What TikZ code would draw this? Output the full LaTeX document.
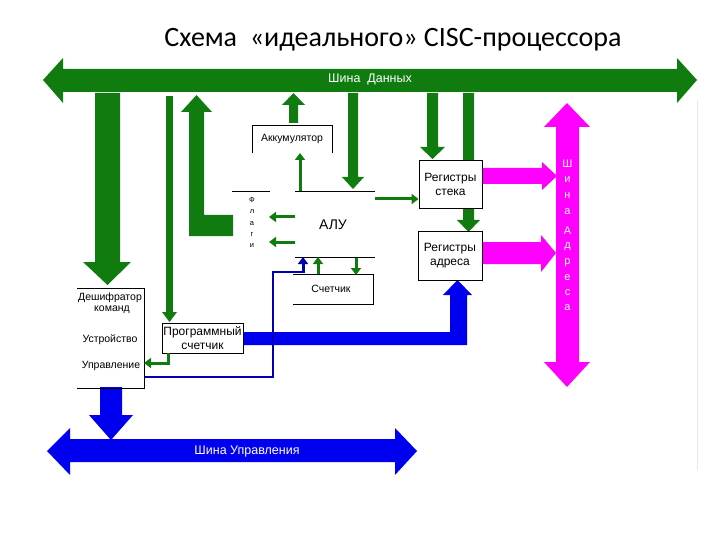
\documentclass[tikz,border=0pt]{standalone}
\usepackage{fontspec}
\setmainfont{Liberation Sans}
\newfontfamily\titlefont{Carlito}
\usetikzlibrary{arrows.meta}
\definecolor{busgreen}{RGB}{16,124,16}
\definecolor{busmag}{RGB}{255,0,255}
\definecolor{busblue}{RGB}{0,0,240}
\definecolor{navyline}{RGB}{0,0,175}
\begin{document}
\begin{tikzpicture}[x=1pt,y=-1pt,
  frame/.style={draw=black, line width=0.8pt},
  box/.style={draw=black, line width=0.8pt, fill=white, inner sep=0pt, align=center},
  lbl/.style={font=\fontsize{10.5}{13}\selectfont, align=center, inner sep=0pt},
  biglbl/.style={font=\fontsize{12}{14}\selectfont, align=center, inner sep=0pt},
  buslbl/.style={text=white, inner sep=0pt, font=\fontsize{12.5}{14}\selectfont},
  vlet/.style={text=white, inner sep=0pt, font=\fontsize{11}{12}\selectfont},
  flet/.style={inner sep=0pt, font=\fontsize{7.5}{8}\selectfont},
  gfill/.style={fill=busgreen, draw=none},
  mfill/.style={fill=busmag, draw=none},
  bfill/.style={fill=busblue, draw=none},
  garrowsm/.style={draw=busgreen, line width=3pt, -{Triangle[length=7pt,width=10pt]}},
  barrowsm/.style={draw=navyline, line width=3pt, -{Triangle[length=7pt,width=10pt]}},
  navy/.style={draw=navyline, line width=1.1pt}
]
\useasboundingbox (0,0) rectangle (720,540);
\fill[white] (0,0) rectangle (720,540);

% title
\node[font=\titlefont\fontsize{28}{32}\selectfont, inner sep=0pt] (title) at (393,40) {Схема\ \ «идеального» CISC-процессора};

% faint slide edge
\draw[gray!18, line width=0.8pt] (697,100) -- (697,470);

% ---- Data bus (green)
\fill[gfill] (43,80) -- (63,58) -- (63,69) -- (677,69) -- (677,58) -- (697,80)
  -- (677,103) -- (677,92) -- (63,92) -- (63,103) -- cycle;
\node[buslbl] (dbus) at (370,79) {Шина\ \ Данных};

% ---- Address bus (magenta)
\fill[mfill] (567,103) -- (590,127) -- (579,127) -- (579,362) -- (590,362) -- (567,387)
  -- (544,362) -- (556,362) -- (556,127) -- (544,127) -- cycle;
\foreach \l/\y in {Ш/164, и/180, н/196, а/212, А/231, д/247, р/263, е/278, с/293, а/308}
  \node[vlet] at (567.5,\y) {\l};

% ---- Control bus (blue)
\fill[bfill] (47,451) -- (70,428) -- (70,439) -- (395,439) -- (395,428) -- (417,451)
  -- (395,475) -- (395,462) -- (70,462) -- (70,475) -- cycle;
\node[buslbl] (cbus) at (247,451) {Шина Управления};

% ---- green block arrows from data bus
\fill[gfill] (95,93) -- (120,93) -- (120,262) -- (131,262) -- (107.5,285) -- (83,262) -- (95,262) -- cycle;
\fill[gfill] (166,96) rectangle (173,313);
\fill[gfill] (162,312) -- (177,312) -- (169.5,322) -- cycle;
\fill[gfill] (189,236) -- (233,236) -- (233,215) -- (204,215) -- (204,112) -- (212,112)
  -- (196.5,95) -- (181,112) -- (189,112) -- cycle;
\fill[gfill] (289,123) -- (298,123) -- (298,105) -- (305,105) -- (293.5,93) -- (282,105) -- (289,105) -- cycle;
\fill[gfill] (348,93) -- (358,93) -- (358,177) -- (364,177) -- (353,189) -- (342,177) -- (348,177) -- cycle;
\fill[gfill] (427,93) -- (438,93) -- (438,147) -- (445,147) -- (432.5,159) -- (420,147) -- (427,147) -- cycle;
\fill[gfill] (463,93) -- (474,93) -- (474,220) -- (480,220) -- (468.5,232) -- (457,220) -- (463,220) -- cycle;

% ---- blue block arrows
\fill[bfill] (243,332) -- (450,332) -- (450,295) -- (443,295) -- (457.5,280) -- (472,295)
  -- (467,295) -- (467,345) -- (243,345) -- cycle;
\fill[bfill] (100,387) -- (122,387) -- (122,415) -- (133,415) -- (111,440) -- (89,415) -- (100,415) -- cycle;

% ---- magenta block arrows
\fill[mfill] (482,168) -- (542,168) -- (542,162) -- (557,176) -- (542,190) -- (542,184) -- (482,184) -- cycle;
\fill[mfill] (482,242) -- (541,242) -- (541,235) -- (556,253) -- (541,272) -- (541,264) -- (482,264) -- cycle;

% ---- boxes
\node[box, biglbl, minimum width=63pt, minimum height=48pt] (stack) at (450.5,184) {Регистры\\стека};
\node[box, biglbl, minimum width=64pt, minimum height=49pt] (addr) at (450,255.5) {Регистры\\адреса};
\node[box, biglbl, minimum width=81pt, minimum height=30pt] (pc) at (202.5,338) {Программный\\счетчик};

% accumulator
\draw[frame] (252,153) -- (252,125) -- (332,125) -- (332,153);
\node[lbl] (acc) at (292,139) {Аккумулятор};

% ALU
\node[inner sep=0pt, minimum width=143pt, minimum height=66pt] (alu) at (303.5,224) {};
\draw[frame] (232,191) -- (270,191);
\draw[frame] (295,191) -- (375,191);
\draw[frame] (295,257) -- (375,257);
\node[font=\fontsize{14}{16}\selectfont, inner sep=0pt] (alutext) at (333,225) {АЛУ};
\foreach \l/\y in {Ф/200, л/212, а/224, г/235, и/246}
  \node[flet] at (252,\y) {\l};

% counter
\draw[frame] (293,274) -- (373,274) -- (373,304) -- (293,304);
\node[lbl] (cnt) at (331,289) {Счетчик};

% control unit / decoder
\draw[frame] (77,288) -- (144,288) -- (144,388) -- (77,388);
\coordinate (cu) at (144,363);
\node[lbl] (dec1) at (110,298) {Дешифратор};
\node[lbl] (dec2) at (112,310) {команд};
\node[lbl] (dev1) at (110,340) {Устройство};
\node[lbl] (dev2) at (111,366) {Управление};

% ---- small connectors
\draw[garrowsm] (300,191) -- (300,153);
\draw[garrowsm] (295,217) -- (269,217);
\draw[garrowsm] (295,242) -- (269,242);
\draw[garrowsm] (375,199) -- (stack.west |- 0,199);
\draw[garrowsm] (318,274) -- (318,257);
\draw[garrowsm] (356,258) -- (356,275);
\draw[garrowsm] (168,353) -- (168,363) -- (cu);
\draw[navy] (145,377) -- (273,377) -- (273,272) -- (303,272);
\draw[barrowsm] (303,273) -- (303,257);
\end{tikzpicture}
\end{document}
